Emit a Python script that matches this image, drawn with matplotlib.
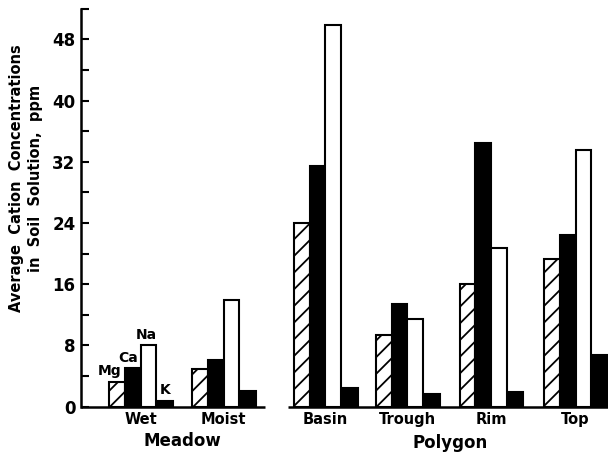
import numpy as np
import matplotlib
matplotlib.use("Agg")
import matplotlib.pyplot as plt
from matplotlib.ticker import MultipleLocator

# Data (ppm)
sites = ["Wet", "Moist", "Basin", "Trough", "Rim", "Top"]
groups = ["Meadow", "Polygon"]
mg = [3.2, 4.9, 24.0, 9.4, 16.0, 19.3]
ca = [5.0, 6.1, 31.4, 13.4, 34.5, 22.4]
na = [8.0, 13.9, 49.9, 11.4, 20.7, 33.5]
k = [0.8, 2.0, 2.5, 1.7, 1.9, 6.7]
ion_labels = ["Mg", "Ca", "Na", "K"]

plt.rcParams["font.family"] = "DejaVu Sans"
plt.rcParams["font.weight"] = "bold"
plt.rcParams["hatch.linewidth"] = 1.3

fig = plt.figure(figsize=(6.08, 4.53), dpi=100)
ax = fig.add_axes([81 / 608, 1 - 406.7 / 453, 527 / 608, (406.7 - 8.7) / 453])

centers = np.array([0.0, 1.0, 2.23, 3.22, 4.23, 5.25])
w = 0.19
offsets = np.array([-1.5, -0.5, 0.5, 1.55]) * w

styles = [
    dict(facecolor="white", hatch="//"),
    dict(facecolor="black"),
    dict(facecolor="white"),
    dict(facecolor="black"),
]
series = [mg, ca, na, k]
for vals, off, st in zip(series, offsets, styles):
    ax.bar(centers + off, vals, width=w, edgecolor="black", linewidth=1.5, **st)

# ion labels above the Wet bars
label_shift = [-0.09, -0.06, -0.03, 0.0]
for vals, off, lab, dx in zip(series, offsets, ion_labels, label_shift):
    ax.text(centers[0] + off + dx, vals[0] + 0.5, lab,
            ha="center", va="bottom", fontsize=10, fontweight="bold")

ax.set_xlim(-0.72, 5.64)
ax.set_ylim(0, 52)
ax.yaxis.set_major_locator(MultipleLocator(8))
ax.yaxis.set_minor_locator(MultipleLocator(4))
ax.tick_params(axis="y", which="both", direction="in", length=6, width=1.5,
               labelsize=12, pad=4)
for lbl in ax.get_yticklabels():
    lbl.set_fontweight("bold")

ax.set_xticks(centers)
ax.set_xticklabels(sites, fontsize=10.5, fontweight="bold")
ax.tick_params(axis="x", length=0, pad=4)

for s in ["top", "right", "bottom"]:
    ax.spines[s].set_visible(False)
ax.spines["left"].set_linewidth(1.8)

# separate baselines for the two groups
ax.hlines(0, -0.72, 1.5, color="black", linewidth=1.8, clip_on=False)
ax.hlines(0, 1.78, 5.64, color="black", linewidth=1.8, clip_on=False)

ax.text(np.mean(centers[:2]), -0.085, groups[0], transform=ax.get_xaxis_transform(),
        ha="center", va="center", fontsize=12, fontweight="bold")
ax.text(np.mean(centers[2:]), -0.09, groups[1], transform=ax.get_xaxis_transform(),
        ha="center", va="center", fontsize=12, fontweight="bold")

fig.text(26 / 608, 1 - 178 / 453,
         "Average  Cation  Concentrations\nin  Soil  Solution,  ppm",
         rotation=90, ha="center", va="center", fontsize=10.5, fontweight="bold",
         multialignment="center", linespacing=1.3)

fig.savefig("out.png", dpi=100)
